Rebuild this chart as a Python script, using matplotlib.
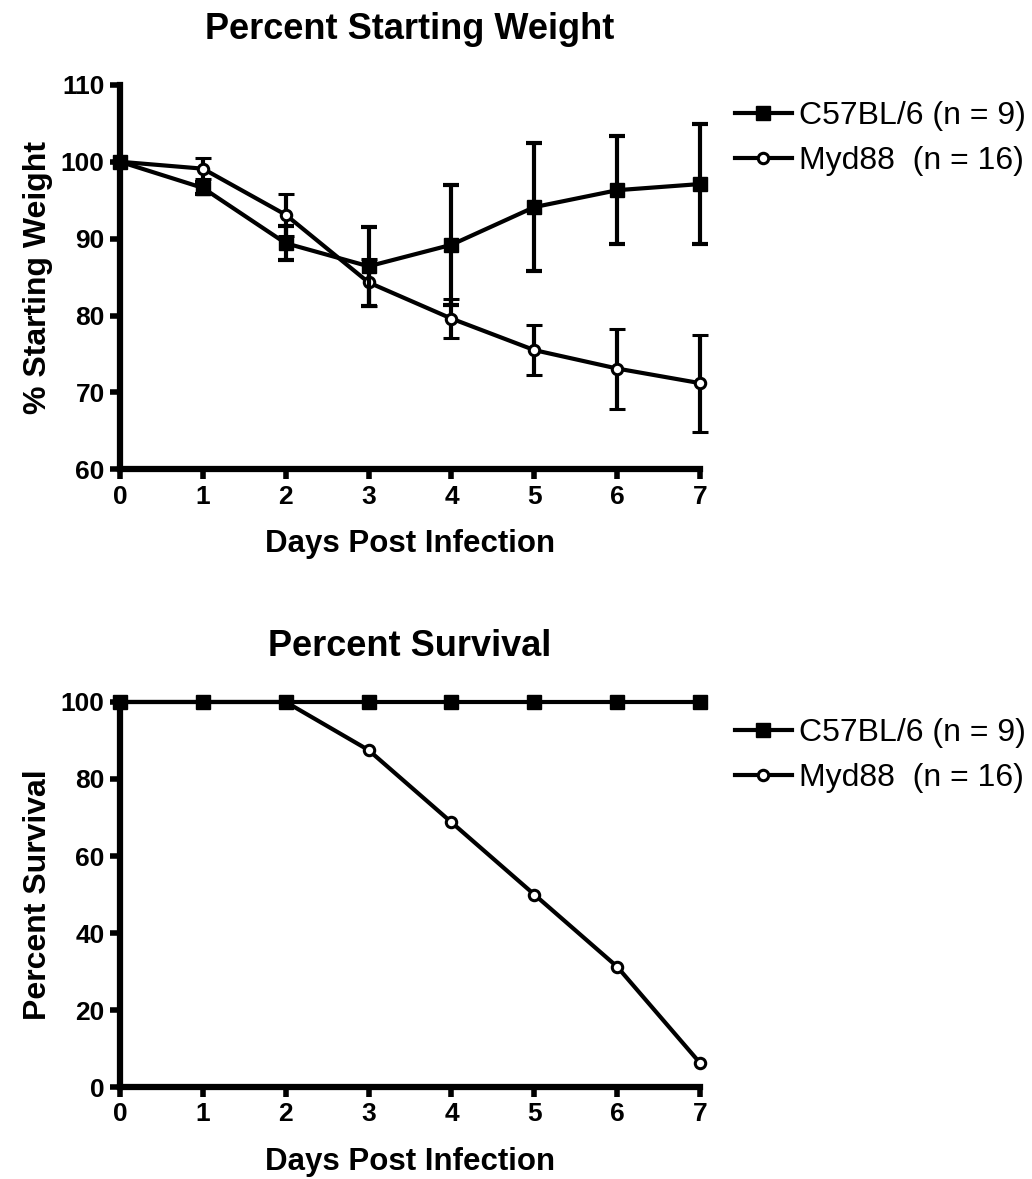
import numpy as np
import matplotlib
matplotlib.use("Agg")
from matplotlib import pyplot as plt

plt.rcParams['font.family'] = ['Liberation Sans', 'DejaVu Sans']

days = [0, 1, 2, 3, 4, 5, 6, 7]

# percent starting weight (mean, error)
wt_c57 = [100, 96.6, 89.4, 86.4, 89.2, 94.1, 96.3, 97.1]
wt_c57_err = [0, 0.8, 2.2, 5.1, 7.8, 8.3, 7.0, 7.8]
wt_myd = [100, 99.1, 93.1, 84.3, 79.6, 75.5, 73.1, 71.2]
wt_myd_err = [0, 1.4, 2.7, 3.0, 2.5, 3.3, 5.2, 6.3]

# percent survival
surv_c57 = [100, 100, 100, 100, 100, 100, 100, 100]
surv_myd = [100, 100, 100, 87.5, 68.75, 50, 31.25, 6.25]

labels = ['C57BL/6 (n = 9)', 'Myd88  (n = 16)']

fig = plt.figure(figsize=(10.32, 11.79), dpi=100)
ax1 = fig.add_axes([0.1163, 0.602, 0.562, 0.326])
ax2 = fig.add_axes([0.1163, 0.078, 0.562, 0.3266])

lw = 3.0
sq = dict(marker='s', ms=10)
ci = dict(marker='o', ms=7.5, mfc='white', mew=2.2)
eb = dict(capsize=5.5, capthick=3, elinewidth=3)


def style(ax):
    for s in ['top', 'right']:
        ax.spines[s].set_visible(False)
    for s in ['left', 'bottom']:
        ax.spines[s].set_linewidth(4.5)
    ax.tick_params(direction='out', length=7, width=4, labelsize=19, pad=4)
    for t in ax.get_xticklabels() + ax.get_yticklabels():
        t.set_fontweight('bold')
    ax.set_xlim(0, 7)
    ax.set_xticks(days)
    ax.set_xlabel('Days Post Infection', fontsize=22.5, fontweight='bold', labelpad=15)


def add_legend(ax, handles, ytop):
    ax.legend(handles, labels, loc='upper left', bbox_to_anchor=(0.712, ytop),
              bbox_transform=fig.transFigure, frameon=False, fontsize=23,
              borderpad=0, borderaxespad=0, handlelength=1.78, handletextpad=0.22,
              labelspacing=0.47)


# top panel
e1 = ax1.errorbar(days, wt_c57, yerr=wt_c57_err, color='black', lw=lw, **sq, **eb,
                  clip_on=False, zorder=4)
e2 = ax1.errorbar(days, wt_myd, yerr=wt_myd_err, color='black', lw=lw, **ci, **eb,
                  clip_on=False, zorder=3)
ax1.set_ylim(60, 110)
ax1.set_yticks([60, 70, 80, 90, 100, 110])
ax1.set_ylabel('% Starting Weight', fontsize=23, fontweight='bold', labelpad=6)
ax1.set_title('Percent Starting Weight', fontsize=26, fontweight='bold', pad=33)
style(ax1)
add_legend(ax1, [e1[0], e2[0]], 0.9143)

# bottom panel
l1, = ax2.plot(days, surv_c57, color='black', lw=lw, **sq, clip_on=False, zorder=4)
l2, = ax2.plot(days, surv_myd, color='black', lw=lw, **ci, clip_on=False, zorder=3)
ax2.set_ylim(0, 100)
ax2.set_yticks([0, 20, 40, 60, 80, 100])
ax2.set_ylabel('Percent Survival', fontsize=23, fontweight='bold', labelpad=6)
ax2.set_title('Percent Survival', fontsize=26, fontweight='bold', pad=33)
style(ax2)
add_legend(ax2, [l1, l2], 0.391)

fig.savefig('out.png', dpi=100)
